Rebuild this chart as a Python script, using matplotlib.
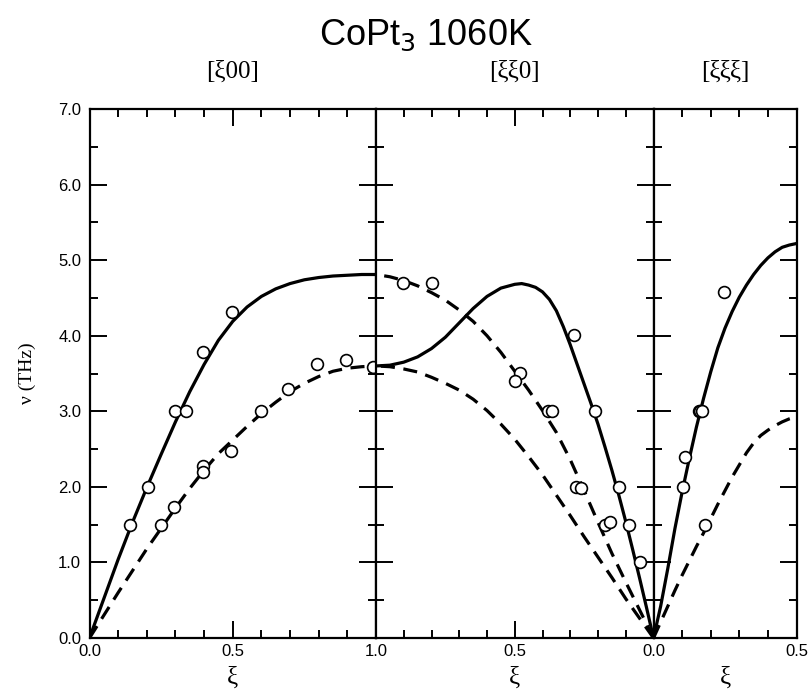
import numpy as np
import matplotlib
matplotlib.use("Agg")
import matplotlib.pyplot as plt
from matplotlib.ticker import MultipleLocator, FormatStrFormatter, NullFormatter

# ---- dispersion curves ----
# [xi 0 0]
X100 = [0.0, 0.05, 0.1, 0.15, 0.2, 0.25, 0.3, 0.35, 0.4, 0.45, 0.5,
        0.55, 0.6, 0.65, 0.7, 0.75, 0.8, 0.85, 0.9, 0.95, 1.0]
L100 = [0.0, 0.52, 1.04, 1.53, 1.99, 2.43, 2.86, 3.26, 3.62, 3.94, 4.19,
        4.38, 4.52, 4.62, 4.69, 4.74, 4.77, 4.79, 4.80, 4.81, 4.81]
T100 = [0.0, 0.30, 0.60, 0.89, 1.18, 1.45, 1.72, 1.98, 2.22, 2.44, 2.62,
        2.80, 2.97, 3.12, 3.26, 3.37, 3.46, 3.53, 3.57, 3.59, 3.60]

# [xi xi 0]
XL110 = [0.0, 0.025, 0.05, 0.075, 0.1, 0.125, 0.15, 0.175, 0.2, 0.225, 0.25,
         0.275, 0.3, 0.325, 0.35, 0.375, 0.4, 0.425, 0.45, 0.475, 0.5,
         0.55, 0.6, 0.65, 0.7, 0.75, 0.8, 0.85, 0.9, 0.95, 1.0]
L110 = [0.0, 0.40, 0.79, 1.17, 1.54, 1.89, 2.22, 2.53, 2.83, 3.10, 3.36,
        3.62, 3.88, 4.12, 4.33, 4.48, 4.58, 4.64, 4.67, 4.69, 4.68,
        4.63, 4.52, 4.36, 4.17, 3.98, 3.83, 3.72, 3.65, 3.61, 3.60]
XT110 = [0.0, 0.05, 0.1, 0.15, 0.2, 0.25, 0.3, 0.35, 0.4, 0.45, 0.5,
         0.55, 0.6, 0.65, 0.7, 0.75, 0.8, 0.85, 0.9, 0.95, 1.0]
T1_110 = [0.0, 0.37, 0.74, 1.12, 1.53, 1.95, 2.36, 2.72, 3.01, 3.28, 3.53,
          3.78, 4.00, 4.19, 4.34, 4.47, 4.57, 4.66, 4.73, 4.78, 4.81]
T2_110 = [0.0, 0.26, 0.52, 0.80, 1.07, 1.34, 1.62, 1.89, 2.16, 2.40, 2.63,
          2.83, 3.01, 3.16, 3.28, 3.37, 3.45, 3.52, 3.56, 3.59, 3.60]

# [xi xi xi]
X111 = [0.0, 0.025, 0.05, 0.075, 0.1, 0.125, 0.15, 0.175, 0.2, 0.225, 0.25,
        0.275, 0.3, 0.325, 0.35, 0.375, 0.4, 0.425, 0.45, 0.475, 0.5]
L111 = [0.0, 0.42, 0.92, 1.45, 1.93, 2.37, 2.79, 3.17, 3.52, 3.84, 4.10,
        4.32, 4.51, 4.67, 4.81, 4.93, 5.03, 5.11, 5.17, 5.20, 5.22]
T111 = [0.0, 0.21, 0.42, 0.63, 0.83, 1.02, 1.21, 1.39, 1.58, 1.77, 1.95,
        2.13, 2.29, 2.45, 2.58, 2.68, 2.75, 2.81, 2.86, 2.90, 2.93]

# ---- measured points ----
EXP100_X = [0.141, 0.205, 0.298, 0.336, 0.395, 0.496,
            0.250, 0.296, 0.395, 0.395, 0.494, 0.599, 0.694, 0.793, 0.894, 0.990]
EXP100_Y = [1.50, 2.00, 3.00, 3.00, 3.79, 4.32,
            1.50, 1.74, 2.27, 2.19, 2.48, 3.00, 3.29, 3.62, 3.68, 3.58]

EXP110_X = [0.902, 0.800, 0.287, 0.481, 0.499, 0.379, 0.367, 0.211,
            0.281, 0.263, 0.124, 0.175, 0.155, 0.087, 0.049]
EXP110_Y = [4.70, 4.70, 4.01, 3.51, 3.40, 3.00, 3.00, 3.00,
            2.00, 1.98, 2.00, 1.49, 1.53, 1.49, 1.01]

EXP111_X = [0.104, 0.110, 0.158, 0.163, 0.168, 0.180, 0.246]
EXP111_Y = [2.00, 2.40, 3.00, 3.00, 3.00, 1.50, 4.58]

PANELS = ["[ξ00]", "[ξξ0]", "[ξξξ]"]

W, H = 809, 698
LW = 2.3
DASH = (4.4, 2.7)
SERIF = ["Liberation Serif", "DejaVu Serif"]


def style_axis(ax):
    ax.set_ylim(0.0, 7.0)
    ax.xaxis.set_major_locator(MultipleLocator(0.5))
    ax.xaxis.set_minor_locator(MultipleLocator(0.1))
    ax.yaxis.set_major_locator(MultipleLocator(1.0))
    ax.yaxis.set_minor_locator(MultipleLocator(0.5))
    ax.tick_params(which="both", direction="in", top=True, right=True,
                   width=1.4, labelsize=12)
    ax.tick_params(which="major", length=12)
    ax.tick_params(which="minor", length=6)
    ax.tick_params(axis="x", pad=4)
    ax.tick_params(axis="y", pad=6)
    for sp in ax.spines.values():
        sp.set_linewidth(1.6)
    ax.xaxis.set_major_formatter(FormatStrFormatter("%.1f"))
    ax.yaxis.set_major_formatter(FormatStrFormatter("%.1f"))
    ax.set_xlabel("ξ", family=SERIF, fontsize=18, labelpad=6)


def draw(ax, curves, px, py):
    for x, y, dashed in curves:
        if dashed:
            ax.plot(x, y, color="black", lw=LW, dashes=DASH)
        else:
            ax.plot(x, y, color="black", lw=LW)
    ax.plot(px, py, "o", mfc="white", mec="black", ms=8.5, mew=1.2,
            clip_on=False, zorder=5)


def main():
    plt.rcParams["font.family"] = ["Liberation Sans", "DejaVu Sans"]
    fig = plt.figure(figsize=(W / 100, H / 100), dpi=100)

    bottom = (H - 638) / H
    height = (638 - 109) / H
    lefts = [89.5, 376.0, 653.5]
    widths = [286.5, 277.5, 143.0]
    axes = [fig.add_axes([l / W, bottom, w / W, height]) for l, w in zip(lefts, widths)]
    ax1, ax2, ax3 = axes

    draw(ax1, [(X100, L100, False), (X100, T100, True)], EXP100_X, EXP100_Y)
    draw(ax2, [(XL110, L110, False), (XT110, T1_110, True), (XT110, T2_110, True)],
         EXP110_X, EXP110_Y)
    draw(ax3, [(X111, L111, False), (X111, T111, True)], EXP111_X, EXP111_Y)

    for ax in axes:
        style_axis(ax)
    ax1.set_xlim(0.0, 1.0)
    ax2.set_xlim(1.0, 0.0)
    ax3.set_xlim(0.0, 0.5)

    ax2.set_xticks([1.0, 0.5, 0.0])
    ax2.set_xticklabels(["", "0.5", ""])
    ax2.yaxis.set_major_formatter(NullFormatter())
    ax3.yaxis.set_major_formatter(NullFormatter())

    ax1.set_ylabel("ν (THz)", family=SERIF, fontsize=14, labelpad=16)

    for name, l, w in zip(PANELS, lefts, widths):
        fig.text((l + w / 2) / W, 1 - 72 / H, name, family=SERIF,
                 fontsize=18, ha="center", va="center")

    fig.text(426 / W, 1 - 35 / H, "CoPt$_3$ 1060K", fontsize=26,
             ha="center", va="center")

    fig.savefig("out.png", dpi=100, facecolor="white")
    plt.close(fig)


if __name__ == "__main__":
    main()
